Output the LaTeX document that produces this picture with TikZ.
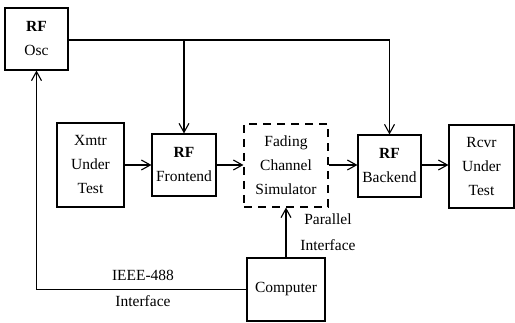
\documentclass[tikz,border=0pt]{standalone}
\usepackage{fontspec}
\setmainfont{Liberation Serif}
\usetikzlibrary{arrows.meta, positioning}

\begin{document}
\begin{tikzpicture}[
    x=1pt, y=-1pt,
    box/.style={draw, line width=1.1pt, inner sep=0pt, align=center, font=\fontsize{15.5}{24}\selectfont},
    label/.style={inner sep=0pt, align=center, font=\fontsize{15.5}{26}\selectfont},
    arrow/.style={-{Straight Barb[length=9pt, width=10pt]}, line width=1.1pt},
    wire/.style={line width=1.1pt},
]
\useasboundingbox (0,0) rectangle (515,323);

% top row
\node[box, minimum width=63pt, minimum height=62pt] (osc) at (36.5, 39) {\textbf{RF}\\Osc};

% signal chain
\node[box, minimum width=67pt, minimum height=84pt] (xmtr) at (90.5, 165) {Xmtr\\Under\\Test};
\node[box, minimum width=64pt, minimum height=62pt] (front) at (184, 165) {\textbf{RF}\\Frontend};
\node[box, dash pattern=on 8pt off 6pt, minimum width=84pt, minimum height=83pt] (sim) at (286, 165.5) {Fading\\Channel\\Simulator};
\node[box, minimum width=63pt, minimum height=62pt] (back) at (389.5, 166) {\textbf{RF}\\Backend};
\node[box, minimum width=65pt, minimum height=83pt] (rcvr) at (481.5, 166.5) {Rcvr\\Under\\Test};

\draw[arrow] (xmtr.east |- 0,165) -- (front.west |- 0,165);
\draw[arrow] (front.east |- 0,165) -- (sim.west |- 0,165);
\draw[arrow] (sim.east |- 0,165) -- (back.west |- 0,165);
\draw[arrow] (back.east |- 0,165) -- (rcvr.west |- 0,165);

% oscillator distribution
\coordinate (tap) at (front.north |- 0,40);
\draw[wire] (osc.east |- 0,40) -- (tap);
\draw[arrow] (tap) -- (front.north);
\draw[arrow] (tap) -| (back.north);

% control
\node[box, minimum width=78pt, minimum height=63pt] (comp) at (286, 289.5) {Computer};
\draw[arrow] (comp.north) -- (sim.south);
\node[label] (par) at (328, 232) {Parallel\\Interface};

\draw[arrow] (comp.west) -| (osc.south);
\node[label] (ieee) at (143, 275) {IEEE-488};
\node[label] (ieeeif) at (143, 301) {Interface};

\end{tikzpicture}
\end{document}
